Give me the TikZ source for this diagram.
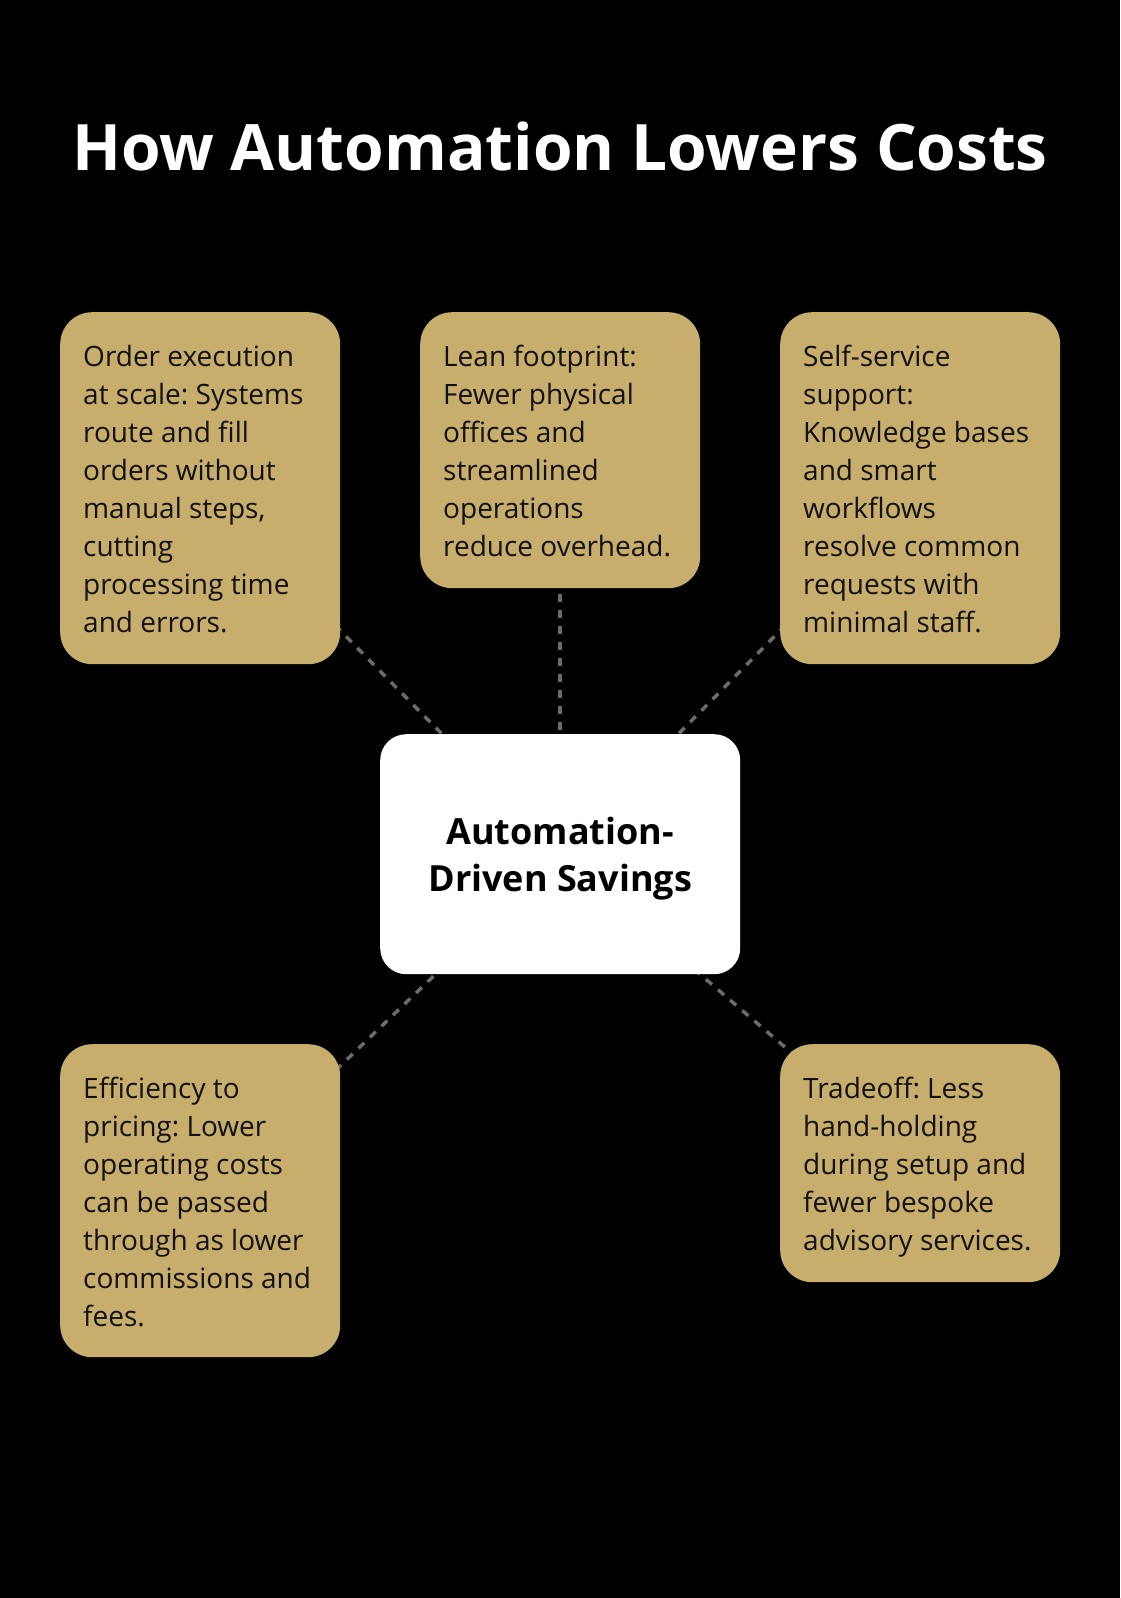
\documentclass[tikz,border=0pt]{standalone}
\usepackage{fontspec}
\setmainfont{Open Sans}
\definecolor{gold}{HTML}{C8AE6C}
\definecolor{linkgray}{HTML}{6B6B6B}
\definecolor{inkdark}{HTML}{111111}
\pgfdeclarelayer{bglayer}
\pgfdeclarelayer{linklayer}
\pgfsetlayers{bglayer,linklayer,main}
\newcommand\cardtext[2]{\vbox to #1{\hsize=280pt\parindent=0pt\leftskip=23pt\rightskip=0pt plus 1fil
\fontsize{28}{38}\selectfont\frenchspacing\baselineskip=38pt\lineskiplimit=-100pt
\hbox{}\vskip 16pt\noindent #2\par\vfill}}
\tikzset{
  card/.style={fill=gold, rounded corners=32pt, inner sep=0pt, anchor=north west,
    minimum width=280pt, text=inkdark},
  hub/.style={fill=white, rounded corners=26pt, inner sep=0pt, anchor=north west,
    minimum width=360pt, minimum height=240pt, align=center, text=black, text depth=0pt,
    font=\fontsize{36}{47}\selectfont\bfseries},
  link/.style={draw=linkgray, line width=3.5pt, dash pattern=on 8pt off 8pt},
  titletext/.style={text=white, font=\fontsize{64}{78}\selectfont\bfseries, inner sep=0pt}
}
\begin{document}
\begin{tikzpicture}[x=1pt,y=-1pt]
\begin{pgfonlayer}{bglayer}
\fill[black] (0,0) rectangle (1120,1598);
\end{pgfonlayer}
\useasboundingbox (0,0) rectangle (1120,1598);
\node[titletext, anchor=base] (title) at (560,170) {How Automation Lowers Costs};
\node[hub] (hub) at (380,734) {Automation-\\Driven Savings};
\node[card] (c1) at (60,312) {\cardtext{352pt}{Order execution\\at scale: Systems\\route and fill\\orders without\\manual steps,\\cutting\\processing time\\and errors.}};
\node[card] (c2) at (420,312) {\cardtext{276pt}{Lean footprint:\\Fewer physical\\offices and\\streamlined\\operations\\reduce overhead.}};
\node[card] (c3) at (780,312) {\cardtext{352pt}{Self-service\\support:\\Knowledge bases\\and smart\\workflows\\resolve common\\requests with\\minimal staff.}};
\node[card] (c4) at (60,1044) {\cardtext{313pt}{Efficiency to\\pricing: Lower\\operating costs\\can be passed\\through as lower\\commissions and\\fees.}};
\node[card] (c5) at (780,1044) {\cardtext{238pt}{Tradeoff: Less\\hand-holding\\during setup and\\fewer bespoke\\advisory services.}};
\begin{pgfonlayer}{linklayer}
\draw[link] (c1.center) -- (hub.center);
\draw[link] (c2.center) -- (hub.center);
\draw[link] (c3.center) -- (hub.center);
\draw[link] (hub.center) -- (c4.center);
\draw[link] (hub.center) -- (c5.center);
\end{pgfonlayer}
\end{tikzpicture}
\end{document}
